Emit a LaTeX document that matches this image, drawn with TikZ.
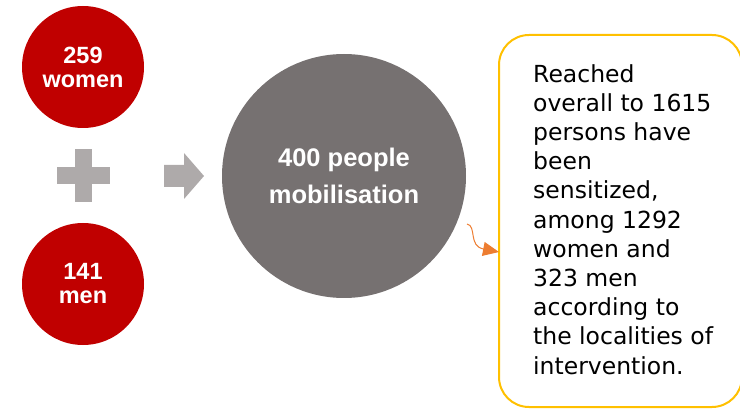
\documentclass[tikz,border=0pt]{standalone}
\usepackage{fontspec}
\setmainfont{Liberation Sans}
\newfontfamily\boxfont{DejaVu Sans}
\usetikzlibrary{arrows.meta}
\definecolor{darkred}{HTML}{C00000}
\definecolor{stonegrey}{HTML}{767171}
\definecolor{lightgrey}{HTML}{AEAAAA}
\definecolor{gold}{HTML}{FFC000}
\definecolor{curlorange}{HTML}{ED7D31}
\begin{document}
\begin{tikzpicture}[x=1pt, y=-1pt, line join=round,
		redcircle/.style={circle, fill=darkred, minimum size=122pt, inner sep=0pt, text=white, align=center, font=\fontsize{23.5}{24}\selectfont\bfseries},
		bigcircle/.style={circle, fill=stonegrey, minimum size=244pt, inner sep=0pt, text=white, align=center, font=\fontsize{25.5}{37.5}\selectfont\bfseries},
		boxtext/.style={anchor=base west, inner sep=0pt, align=left, font=\boxfont\fontsize{23.5}{29.2}\selectfont}]
			\useasboundingbox (0,0) rectangle (740,409);
			% left column
			\node[redcircle] (women) at (83,67) {259\\women};
			\node[redcircle] (men) at (83,284) {141\\men};
			\fill[lightgrey] (57,167) rectangle (110,184);
			\fill[lightgrey] (75,149) rectangle (92,202);
			% arrow to the big circle
			\fill[lightgrey] (164,165)--(184,165)--(184,153)--(204,176)--(184,199)--(184,187)--(164,187)--cycle;
			\node[bigcircle] (mobil) at (344,176) {400 people\\mobilisation};
			% text box (base anchor sits on the last line)
			\draw[gold, line width=2pt, rounded corners=30pt] (499,35) rectangle (742,407);
			\node[boxtext] (reached) at (533,374) {Reached\\overall to 1615\\persons have\\been\\sensitized,\\among 1292\\women and\\323 men\\according to\\the localities of\\intervention.};
			% curly arrow
			\coordinate (curlstart) at (467,224);
			\coordinate (curlend) at (499,252);
			\draw[curlorange, line width=1pt, -{Triangle[length=16pt, width=14pt]}] (curlstart) .. controls (477,226) and (468,246) .. (curlend);
		\end{tikzpicture}
\end{document}
